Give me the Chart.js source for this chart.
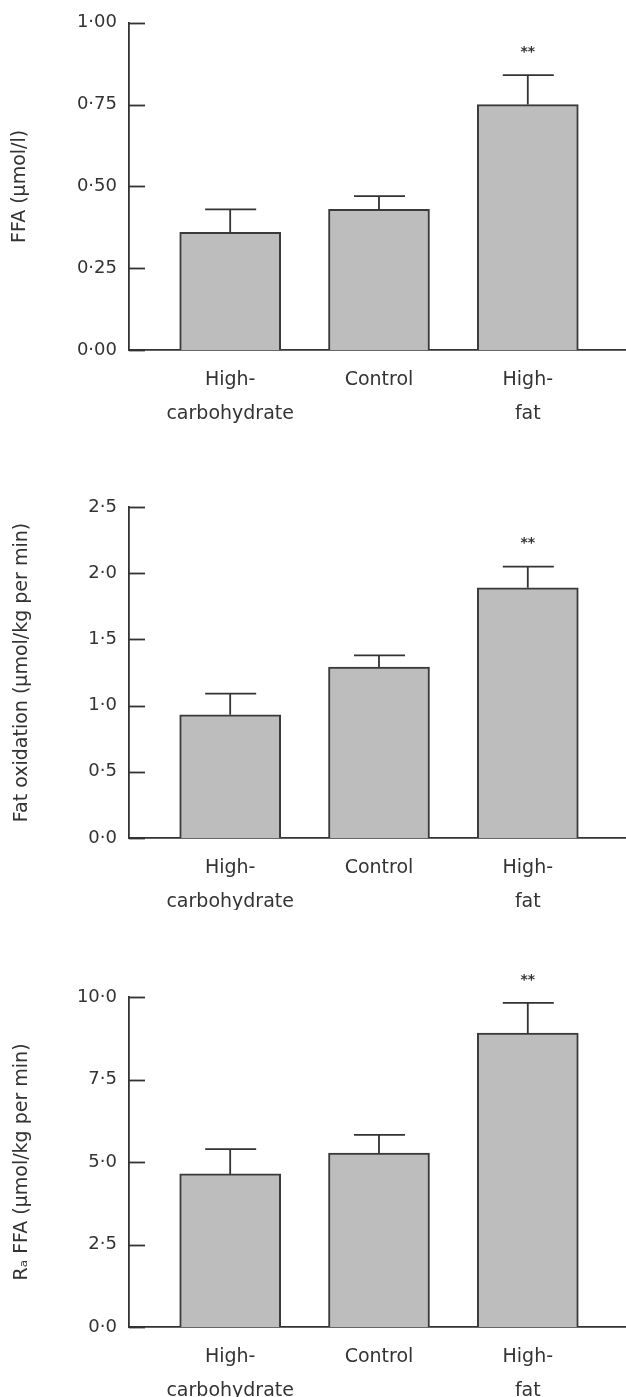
<!DOCTYPE html>
<html>
<head>
<meta charset="utf-8">
<script src="https://cdn.jsdelivr.net/npm/chart.js@4.4.1/dist/chart.umd.min.js"></script>
<style>
  html, body { margin: 0; padding: 0; background: #fff; overflow: hidden; }
  canvas { position: absolute; left: 0; }
</style>
</head>
<body>
<canvas id="ffa" width="626" height="440" style="top:0"></canvas>
<canvas id="fatox" width="626" height="470" style="top:440px"></canvas>
<canvas id="ra" width="626" height="487" style="top:910px"></canvas>
<script>
// diets, same order in every panel
const groups = ["High-carbohydrate", "Control", "High-fat"];
const groupLines = [["High-", "carbohydrate"], ["Control"], ["High-", "fat"]];

// plasma FFA (µmol/l), mean and SE
const ffaMean = [0.36, 0.43, 0.75];
const ffaSE = [0.07, 0.04, 0.09];
const ffaTicks = [0, 0.25, 0.5, 0.75, 1.0];

// fat oxidation (µmol/kg per min)
const fatOxMean = [0.93, 1.29, 1.89];
const fatOxSE = [0.16, 0.09, 0.16];
const fatOxTicks = [0, 0.5, 1.0, 1.5, 2.0, 2.5];

// Ra FFA (µmol/kg per min)
const raMean = [4.64, 5.27, 8.91];
const raSE = [0.75, 0.55, 0.91];
const raTicks = [0, 2.5, 5.0, 7.5, 10.0];

// significance marks
const stars = ["", "", "**"];

const ink = "#333";
const font = "'DejaVu Sans', sans-serif";

// inward tick marks, upper error bars and the ** marks
const extras = {
  id: "extras",
  afterDatasetsDraw(chart, args, opts) {
    const { ctx, scales: { x, y } } = chart;
    ctx.save();
    ctx.strokeStyle = ink;
    ctx.lineWidth = 1.8;
    y.ticks.forEach(t => {
      const py = Math.round(y.getPixelForValue(t.value)) + 0.5;
      ctx.beginPath();
      ctx.moveTo(x.left, py);
      ctx.lineTo(x.left + 16, py);
      ctx.stroke();
    });
    opts.mean.forEach((m, i) => {
      const px = x.getPixelForValue(i + 1);
      const yb = y.getPixelForValue(m);
      const yt = y.getPixelForValue(m + opts.se[i]);
      ctx.beginPath();
      ctx.moveTo(px, yb);
      ctx.lineTo(px, yt);
      ctx.moveTo(px - 25, yt);
      ctx.lineTo(px + 26, yt);
      ctx.stroke();
      if (stars[i]) {
        ctx.fillStyle = ink;
        ctx.font = "bold 14px " + font;
        ctx.textAlign = "center";
        ctx.textBaseline = "middle";
        ctx.fillText(stars[i], px, yt - 23);
      }
    });
    ctx.restore();
  }
};

function makeChart(id, mean, se, ticks, decimals, title, topPad, xHeight, titlePad) {
  return new Chart(document.getElementById(id), {
    type: "bar",
    data: {
      datasets: [{
        label: title,
        data: mean.map((v, i) => ({ x: i + 1, y: v })),
        backgroundColor: "#bdbdbd",
        borderColor: "#3a3a3a",
        borderWidth: 2,
        barThickness: 101
      }]
    },
    options: {
      responsive: false,
      animation: false,
      layout: { padding: { top: topPad, right: 0, left: 0, bottom: 0 } },
      plugins: {
        legend: { display: false },
        tooltip: { enabled: false },
        extras: { mean: mean, se: se }
      },
      scales: {
        x: {
          type: "linear",
          offset: false,
          min: 0.32,
          max: 3.66,
          grid: { display: false, drawTicks: false },
          border: { display: true, color: ink, width: 1.8 },
          afterBuildTicks: s => { s.ticks = groups.map((g, i) => ({ value: i + 1 })); },
          afterFit: s => { s.height = xHeight; },
          ticks: {
            padding: 13,
            color: ink,
            maxRotation: 0,
            autoSkip: false,
            font: { family: font, size: 19, lineHeight: 1.8 },
            callback: v => groupLines[v - 1]
          }
        },
        y: {
          min: ticks[0],
          max: ticks[ticks.length - 1],
          grid: { display: false, drawTicks: false },
          border: { display: true, color: ink, width: 1.8 },
          afterBuildTicks: s => { s.ticks = ticks.map(v => ({ value: v })); },
          afterFit: s => { s.width = 129; },
          ticks: {
            padding: 12,
            color: ink,
            font: { family: font, size: 18 },
            callback: v => v.toFixed(decimals).replace(".", "·")
          },
          title: {
            display: true,
            text: title,
            color: ink,
            padding: { top: titlePad, bottom: 0 },
            font: { family: font, size: 19 }
          }
        }
      }
    },
    plugins: [extras]
  });
}

makeChart("ffa", ffaMean, ffaSE, ffaTicks, 2, "FFA (µmol/l)", 21, 90, 9);
makeChart("fatox", fatOxMean, fatOxSE, fatOxTicks, 1, "Fat oxidation (µmol/kg per min)", 67, 72, 11);
makeChart("ra", raMean, raSE, raTicks, 1, "Rₐ FFA (µmol/kg per min)", 87, 70, 11);
</script>
</body>
</html>
